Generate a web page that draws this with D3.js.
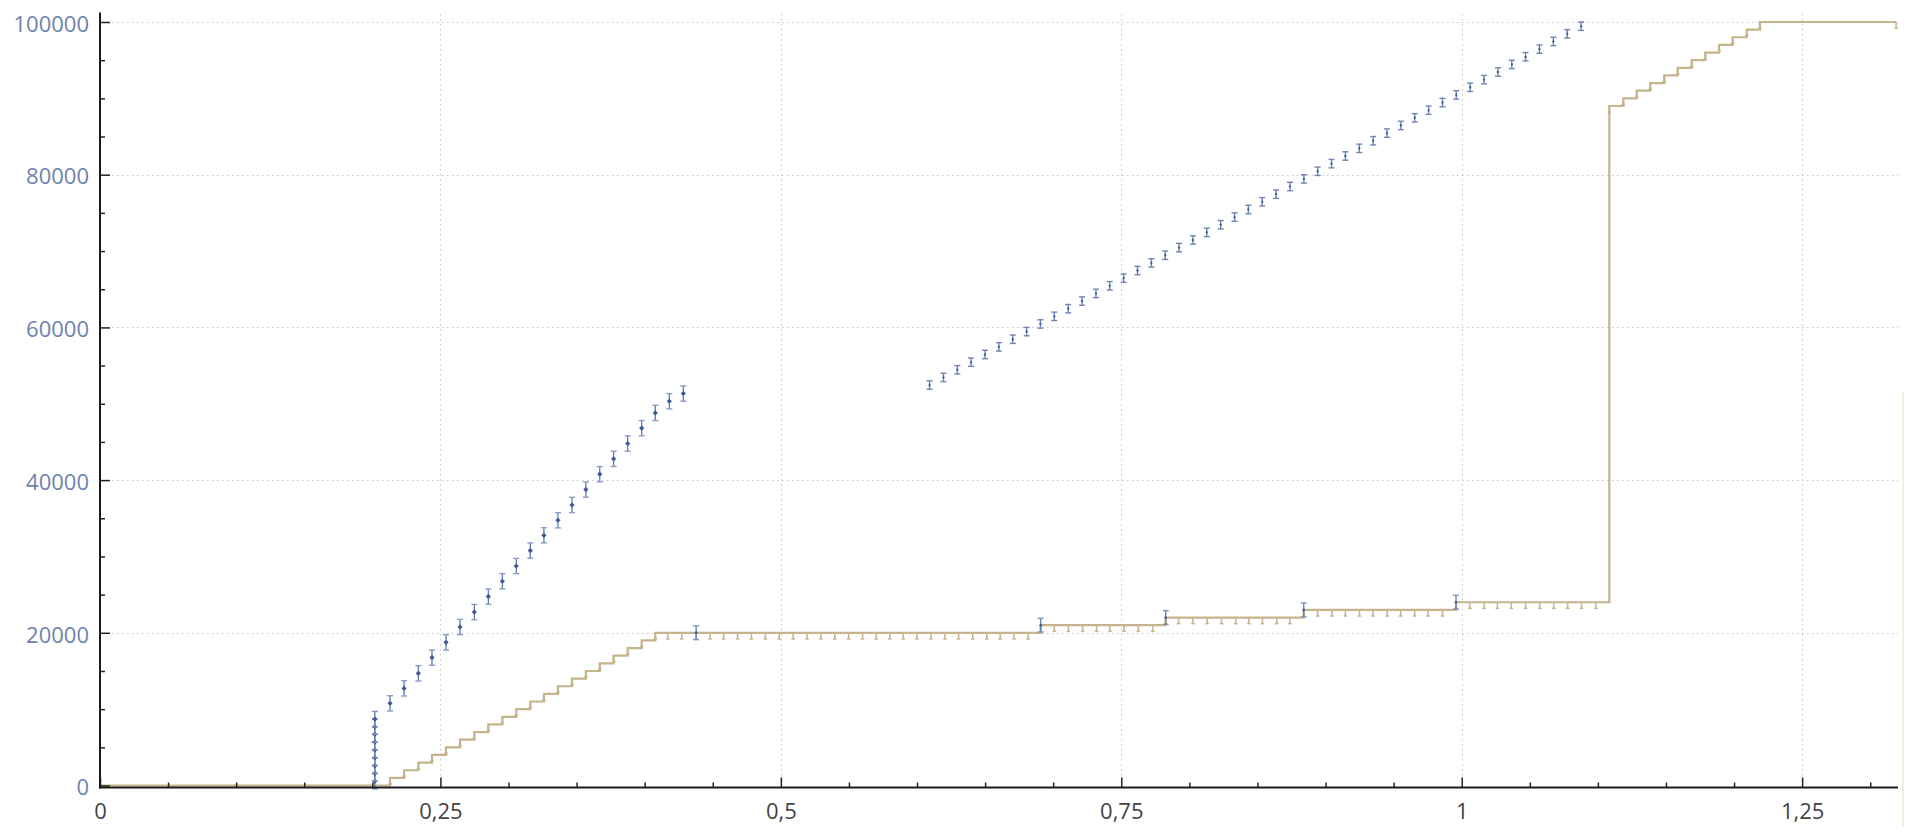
<!DOCTYPE html>
<html><head><meta charset="utf-8">
<script src="https://cdn.jsdelivr.net/npm/d3@7"></script>
<style>body{margin:0;background:#fff;overflow:hidden}</style>
</head><body>
<svg id="c" width="1920" height="839"></svg>
<script>
// ---------- data ----------
const xMajor = [0, 0.25, 0.5, 0.75, 1, 1.25];
const xLabels = ["0", "0,25", "0,5", "0,75", "1", "1,25"];
const xMinor = [0.05,0.1,0.15,0.2,0.3,0.35,0.4,0.45,0.55,0.6,0.65,0.7,0.8,0.85,0.9,0.95,1.05,1.1,1.15,1.2,1.3];
const yMajor = [0, 20000, 40000, 60000, 80000, 100000];
const yLabels = ["0", "20000", "40000", "60000", "80000", "100000"];
const yMinor = [5000,10000,15000,25000,30000,35000,45000,50000,55000,65000,70000,75000,85000,90000,95000];

// blue points (x, y) with symmetric errors
const blueStack = [[0.2018,550],[0.2018,1600],[0.2018,2600],[0.2018,3650],[0.2018,4650],[0.2018,5700],[0.2018,6700],[0.2018,7700],[0.2018,8700]];
const blueRise = [[0.2130,10760],[0.2233,12720],[0.2338,14690],[0.2438,16750],[0.2541,18750],[0.2644,20760],[0.2749,22720],[0.2852,24740],[0.2955,26750],[0.3057,28750],[0.3160,30770],[0.3260,32770],[0.3363,34740],[0.3466,36740],[0.3568,38760],[0.3670,40770],[0.3772,42780],[0.3875,44790],[0.3978,46800],[0.4078,48800],[0.4181,50330],[0.4284,51340]];
const blueUpper = [[0.6092,52450],[0.6194,53450],[0.6296,54450],[0.6397,55450],[0.6499,56450],[0.6601,57450],[0.6703,58450],[0.6805,59450],[0.6906,60450],[0.7008,61450],[0.7110,62450],[0.7212,63450],[0.7314,64450],[0.7415,65450],[0.7517,66450],[0.7619,67450],[0.7721,68450],[0.7823,69450],[0.7924,70450],[0.8026,71450],[0.8128,72450],[0.8230,73450],[0.8332,74450],[0.8433,75450],[0.8535,76450],[0.8637,77450],[0.8739,78450],[0.8841,79450],[0.8942,80450],[0.9044,81450],[0.9146,82450],[0.9248,83450],[0.9350,84450],[0.9451,85450],[0.9553,86450],[0.9655,87450],[0.9757,88450],[0.9859,89450],[0.9960,90450],[1.0062,91450],[1.0164,92450],[1.0266,93450],[1.0368,94450],[1.0469,95450],[1.0571,96450],[1.0673,97450],[1.0775,98450],[1.0877,99450]];
const blueOnSteps = [[0.4378,20000],[0.6908,21000],[0.7826,22000],[0.8840,23000],[0.9958,24000]];
const errStack = 1000, errRise = 1000, errUpper = 550, errOnSteps = 900;

// tan step series (x, y), lower error drawn at each point
const tanSeries = [[0,0],
 [0.2130,1000],[0.2233,2000],[0.2338,3000],[0.2438,4000],[0.2541,5000],[0.2644,6000],[0.2749,7000],[0.2852,8000],[0.2955,9000],[0.3057,10000],
 [0.3160,11000],[0.3260,12000],[0.3363,13000],[0.3466,14000],[0.3568,15000],[0.3670,16000],[0.3772,17000],[0.3875,18000],[0.3978,19000],[0.4078,20000],
 [0.4170,20000],[0.4272,20000],[0.4378,20000],[0.4480,20000],[0.4580,20000],[0.4682,20000],[0.4784,20000],[0.4886,20000],[0.4988,20000],[0.5090,20000],
 [0.5192,20000],[0.5294,20000],[0.5396,20000],[0.5498,20000],[0.5600,20000],[0.5700,20000],[0.5800,20000],[0.5899,20000],[0.5999,20000],[0.6102,20000],
 [0.6205,20000],[0.6305,20000],[0.6409,20000],[0.6512,20000],[0.6610,20000],[0.6712,20000],[0.6816,20000],
 [0.6908,21000],[0.7008,21000],[0.7111,21000],[0.7216,21000],[0.7319,21000],[0.7417,21000],[0.7520,21000],[0.7625,21000],[0.7731,21000],
 [0.7826,22000],[0.7921,22000],[0.8026,22000],[0.8131,22000],[0.8236,22000],[0.8341,22000],[0.8437,22000],[0.8537,22000],[0.8642,22000],[0.8738,22000],
 [0.8840,23000],[0.8942,23000],[0.9047,23000],[0.9146,23000],[0.9249,23000],[0.9348,23000],[0.9453,23000],[0.9552,23000],[0.9654,23000],[0.9753,23000],[0.9859,23000],
 [0.9958,24000],[1.0060,24000],[1.0165,24000],[1.0262,24000],[1.0364,24000],[1.0469,24000],[1.0573,24000],[1.0676,24000],[1.0778,24000],[1.0880,24000],[1.0985,24000],
 [1.1084,89000],[1.1187,90000],[1.1285,91000],[1.1385,92000],[1.1488,93000],[1.1586,94000],[1.1689,95000],[1.1789,96000],[1.1890,97000],[1.1990,98000],[1.2093,99000],
 [1.2190,100000],[1.3190,100000]];
const tanErrLow = 800;

// ---------- drawing ----------
const svg = d3.select('#c');
const x = d3.scaleLinear().domain([0, 1.3204]).range([100, 1898]);
const y = d3.scaleLinear().domain([0, 100000]).range([785.5, 22]);

const FONT = '"Open Sans", "Noto Sans", sans-serif';

// gridlines
const grid = svg.append('g').attr('stroke', '#c4c4c4').attr('stroke-width', 1).attr('stroke-dasharray', '1.5,3.5');
grid.selectAll('line.h').data(yMajor.filter(d => d > 0)).join('line')
  .attr('x1', 112).attr('x2', 1898).attr('y1', d => Math.round(y(d)) + 0.5).attr('y2', d => Math.round(y(d)) + 0.5);
grid.selectAll('line.v').data(xMajor.filter(d => d > 0)).join('line')
  .attr('x1', d => Math.round(x(d)) + 0.5).attr('x2', d => Math.round(x(d)) + 0.5).attr('y1', 14).attr('y2', 777);

// faint right edge line
svg.append('line').attr('x1', 1903).attr('x2', 1903).attr('y1', 392).attr('y2', 826)
  .attr('stroke', '#efe9d2').attr('stroke-width', 1.5);

// tan step line
const tanColor = '#c5b48c';
svg.append('path').datum(tanSeries)
  .attr('d', d3.line().x(d => x(d[0])).y(d => y(d[1])).curve(d3.curveStepAfter))
  .attr('fill', 'none').attr('stroke', tanColor).attr('stroke-width', 2.2);

// tan lower error ticks
const tt = svg.append('g').attr('stroke', tanColor).attr('stroke-width', 1.5);
tanSeries.filter(d => d[1] > 0).forEach(d => {
  const cx = x(d[0]);
  tt.append('line').attr('x1', cx).attr('x2', cx).attr('y1', y(d[1])).attr('y2', y(d[1] - tanErrLow));
  tt.append('line').attr('x1', cx - 1.8).attr('x2', cx + 1.8).attr('y1', y(d[1] - tanErrLow)).attr('y2', y(d[1] - tanErrLow));
});

// blue markers
function drawBlue(data, err, dotR, capColor) {
  const g = svg.append('g');
  data.forEach(d => {
    const cx = x(d[0]), cy = y(d[1]), t = y(d[1] + err), b = y(d[1] - err);
    g.append('line').attr('x1', cx).attr('x2', cx).attr('y1', t).attr('y2', b)
      .attr('stroke', '#6a82b4').attr('stroke-width', 1.4);
    g.append('line').attr('x1', cx - 3).attr('x2', cx + 3).attr('y1', t).attr('y2', t)
      .attr('stroke', capColor).attr('stroke-width', 1.4);
    g.append('line').attr('x1', cx - 3).attr('x2', cx + 3).attr('y1', b).attr('y2', b)
      .attr('stroke', capColor).attr('stroke-width', 1.4);
    if (dotR > 0) {
      g.append('path').attr('d', `M${cx - dotR},${cy}L${cx},${cy - dotR}L${cx + dotR},${cy}L${cx},${cy + dotR}Z`)
        .attr('fill', '#3d5a95');
    }
  });
}
drawBlue(blueStack, errStack, 2.6, '#7e93c0');
drawBlue(blueRise, errRise, 2.6, '#8a9dc7');
drawBlue(blueUpper, errUpper, 1.4, '#6f85b3');
drawBlue(blueOnSteps, errOnSteps, 1.6, '#7f94c0');

// axes
const gyMinor = svg.append('g').attr('transform', 'translate(100,0)')
  .call(d3.axisLeft(y).tickValues(yMinor).tickSize(-5).tickSizeOuter(0).tickFormat(''));
gyMinor.select('.domain').remove();
gyMinor.selectAll('line').attr('stroke', '#222').attr('stroke-width', 1.5);

const gy = svg.append('g').attr('transform', 'translate(100,0)')
  .call(d3.axisLeft(y).tickValues(yMajor).tickSize(-10).tickSizeOuter(0).tickPadding(11)
    .tickFormat((d, i) => yLabels[i]));
gy.select('.domain').remove();
gy.selectAll('line').attr('stroke', '#222').attr('stroke-width', 1.5);
gy.selectAll('text').attr('fill', '#6e83ad').attr('dy', '0.42em')
  .style('font-family', FONT).style('font-size', '22px');

const gxMinor = svg.append('g').attr('transform', 'translate(0,787.5)')
  .call(d3.axisBottom(x).tickValues(xMinor).tickSize(-5).tickSizeOuter(0).tickFormat(''));
gxMinor.select('.domain').remove();
gxMinor.selectAll('line').attr('stroke', '#222').attr('stroke-width', 1.5);

const gx = svg.append('g').attr('transform', 'translate(0,787.5)')
  .call(d3.axisBottom(x).tickValues(xMajor).tickSize(-10).tickSizeOuter(0)
    .tickFormat((d, i) => xLabels[i]));
gx.select('.domain').remove();
gx.selectAll('line').attr('stroke', '#222').attr('stroke-width', 1.5);
gx.selectAll('text').attr('fill', '#444').attr('y', 31).attr('dy', 0)
  .style('font-family', FONT).style('font-size', '22px');

// axis lines
svg.append('line').attr('x1', 100).attr('x2', 100).attr('y1', 12.5).attr('y2', 788.5)
  .attr('stroke', '#1a1a1a').attr('stroke-width', 2);
svg.append('line').attr('x1', 99).attr('x2', 1898).attr('y1', 787.5).attr('y2', 787.5)
  .attr('stroke', '#1a1a1a').attr('stroke-width', 2);
</script>
</body></html>
